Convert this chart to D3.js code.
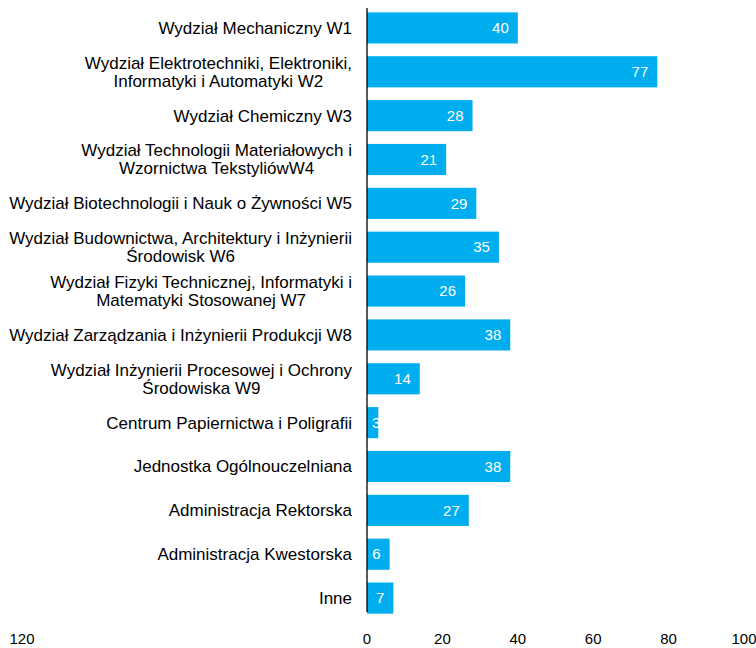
<!DOCTYPE html>
<html><head><meta charset="utf-8">
<script src="https://cdn.jsdelivr.net/npm/d3@7"></script>
<style>body{margin:0;background:#fff}svg{display:block}text{font-family:"Liberation Sans",Arial,sans-serif}</style>
</head><body><svg id="c" width="756" height="648"></svg>
<script>
const categories = [
  ["Wydział Mechaniczny W1"],
  ["Wydział Elektrotechniki, Elektroniki,", "Informatyki i Automatyki W2"],
  ["Wydział Chemiczny W3"],
  ["Wydział Technologii Materiałowych i", "Wzornictwa TekstyliówW4"],
  ["Wydział Biotechnologii i Nauk o Żywności W5"],
  ["Wydział Budownictwa, Architektury i Inżynierii", "Środowisk W6"],
  ["Wydział Fizyki Technicznej, Informatyki i", "Matematyki Stosowanej W7"],
  ["Wydział Zarządzania i Inżynierii Produkcji W8"],
  ["Wydział Inżynierii Procesowej i Ochrony", "Środowiska W9"],
  ["Centrum Papiernictwa i Poligrafii"],
  ["Jednostka Ogólnouczelniana"],
  ["Administracja Rektorska"],
  ["Administracja Kwestorska"],
  ["Inne"]
];
const values = [40, 77, 28, 21, 29, 35, 26, 38, 14, 3, 38, 27, 6, 7];
const tickValues = [0, 20, 40, 60, 80, 100];
const overflowTick = "120";

const svg = d3.select("#c");
const x = d3.scaleLinear().domain([0, 100]).range([367, 744]);
const y = d3.scaleBand().domain(d3.range(categories.length)).range([6, 620]).paddingInner(0.29).paddingOuter(0.145);
const color = "#00AEEF";

svg.append("g").selectAll("rect").data(values).join("rect")
  .attr("x", x(0)).attr("y", (d, i) => y(i))
  .attr("width", d => x(d) - x(0)).attr("height", y.bandwidth())
  .attr("fill", color);

const vl = svg.append("g").selectAll("text").data(values).join("text")
  .attr("y", (d, i) => y(i) + y.bandwidth() / 2)
  .attr("dy", "0.35em").attr("text-anchor", "end")
  .attr("fill", "#fff").attr("font-size", 15).text(d => d);
vl.attr("x", function(d) {
  const w = this.getComputedTextLength();
  return Math.max(x(d) - 9, x(0) + 5 + w);
});

svg.append("line").attr("x1", x(0)).attr("x2", x(0)).attr("y1", 8).attr("y2", 612)
  .attr("stroke", "#000").attr("stroke-width", 1.3);

// category labels
const labG = svg.append("g");
categories.forEach((lines, i) => {
  const cy = y(i) + y.bandwidth() / 2;
  const g = labG.append("g");
  const lh = 18;
  const ts = lines.map((l, j) => g.append("text")
    .attr("font-size", 17).attr("fill", "#000").attr("text-anchor", "middle")
    .attr("y", cy + (j - (lines.length - 1) / 2) * lh).attr("dy", "0.35em").text(l));
  const w = d3.max(ts, t => t.node().getComputedTextLength());
  ts.forEach(t => t.attr("x", 352 - w / 2));
});

// bottom axis
const ax = svg.append("g").attr("transform", "translate(0,639)");
ax.selectAll("text").data(tickValues).join("text")
  .attr("x", d => x(d)).attr("text-anchor", "middle").attr("dy", "0.35em")
  .attr("font-size", 15).attr("fill", "#000").text(d => d);
ax.append("text").attr("x", 22).attr("text-anchor", "middle").attr("dy", "0.35em")
  .attr("font-size", 15).attr("fill", "#000").text(overflowTick);
</script></body></html>
